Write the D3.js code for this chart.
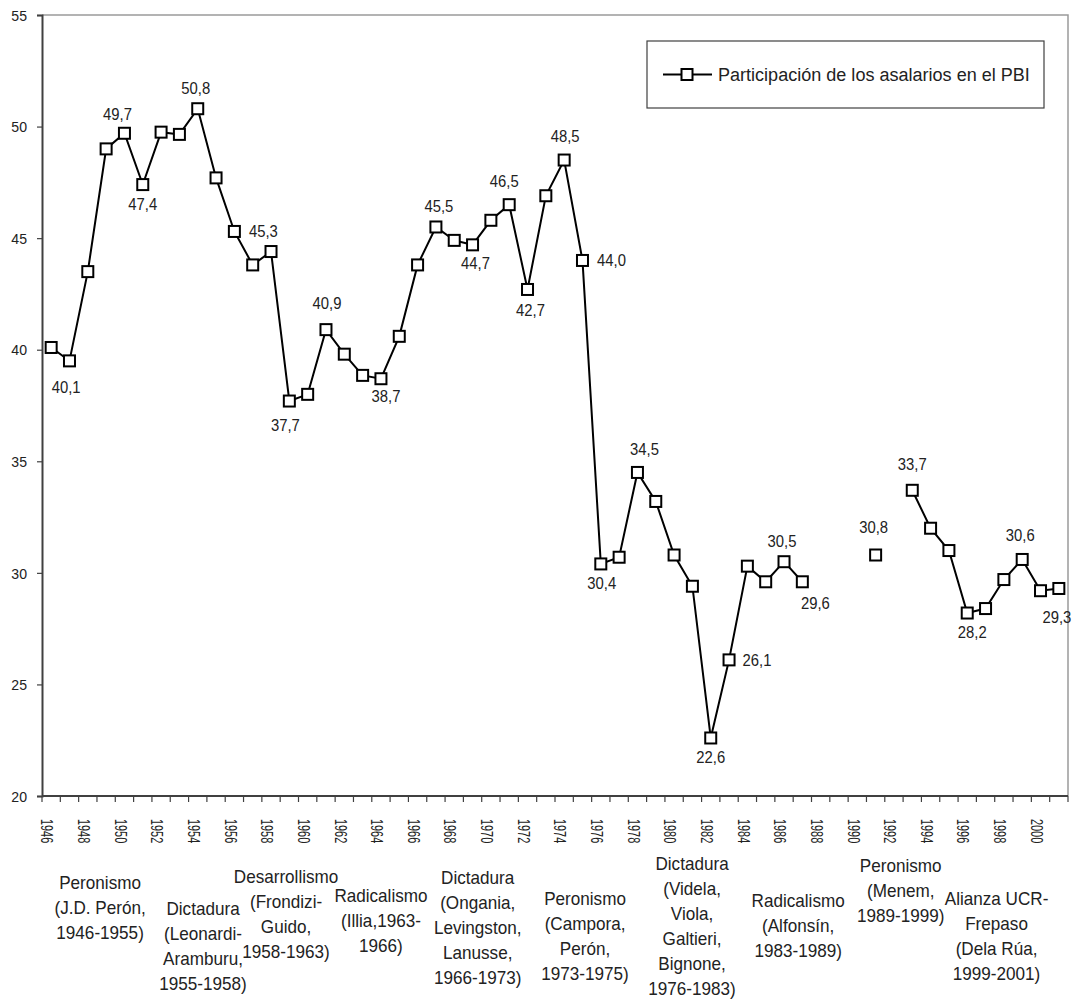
<!DOCTYPE html>
<html>
<head>
<meta charset="utf-8">
<script src="https://cdn.jsdelivr.net/npm/d3@7"></script>
<style>
  html, body { margin: 0; padding: 0; background: #fff; }
  svg text { font-family: 'Liberation Sans', Arial, sans-serif; fill: #222; }
</style>
</head>
<body>
<div id="chart"></div>
<script>
"use strict";
// Participación de los asalarios en el PBI, Argentina 1946-2001 (gaps = no data)
const years = d3.range(1946, 2002);
const wageShare = [
  40.1, 39.5, 43.5, 49.0, 49.7, 47.4, 49.75, 49.65, 50.8, 47.7,   // 1946-1955
  45.3, 43.8, 44.4, 37.7, 38.0, 40.9, 39.8, 38.85, 38.7, 40.6,    // 1956-1965
  43.8, 45.5, 44.9, 44.7, 45.8, 46.5, 42.7, 46.9, 48.5, 44.0,     // 1966-1975
  30.4, 30.7, 34.5, 33.2, 30.8, 29.4, 22.6, 26.1, 30.3, 29.6,     // 1976-1985
  30.5, 29.6, null, null, null, 30.8, null, 33.7, 32.0, 31.0,     // 1986-1995
  28.2, 28.4, 29.7, 30.6, 29.2, 29.3                              // 1996-2001
];
const yTicks = [20, 25, 30, 35, 40, 45, 50, 55];
const labeledYears = [1946, 1950, 1951, 1954, 1956, 1959, 1961, 1964, 1967, 1969, 1971, 1972,
  1974, 1975, 1976, 1978, 1982, 1983, 1986, 1987, 1991, 1993, 1996, 1999, 2001];
const seriesName = 'Participación de los asalarios en el PBI';
const periods = [
  ['Peronismo', '(J.D. Perón,', '1946-1955)'],
  ['Dictadura', '(Leonardi-', 'Aramburu,', '1955-1958)'],
  ['Desarrollismo', '(Frondizi-', 'Guido,', '1958-1963)'],
  ['Radicalismo', '(Illia,1963-', '1966)'],
  ['Dictadura', '(Ongania,', 'Levingston,', 'Lanusse,', '1966-1973)'],
  ['Peronismo', '(Campora,', 'Perón,', '1973-1975)'],
  ['Dictadura', '(Videla,', 'Viola,', 'Galtieri,', 'Bignone,', '1976-1983)'],
  ['Radicalismo', '(Alfonsín,', '1983-1989)'],
  ['Peronismo', '(Menem,', '1989-1999)'],
  ['Alianza UCR-', 'Frepaso', '(Dela Rúa,', '1999-2001)']
];

// ---- layout (not data) ----
const W = 1073, H = 1003;
const M = { left: 42, right: 1068, top: 15, bottom: 796 };
const SX = 0.94;   // the reference's type is slightly condensed
// label offsets from the marker centre, same order as labeledYears
const labelOffsets = [[15, 40], [-7, -19], [0, 20], [-2, -20], [29, 0], [-4, 24], [1, -26], [5, 18],
  [3, -21], [3, 18], [-5, -23], [3, 21], [1, -24], [29, 0], [1, 19], [7, -23], [0, 19], [28, 0],
  [-2, -20], [13, 22], [-2, -28], [0, -26], [5, 19], [-2, -24], [-2, 29]];
// period annotation: centre (fractional year on the x scale) and first-line y
const periodPos = [[1948.67, 883], [1954.29, 909], [1958.82, 877], [1964.0, 896], [1969.28, 878],
  [1975.14, 899], [1980.98, 864], [1986.77, 901], [1992.37, 866], [1997.6, 899]];
const lineGap = 25;

const svg = d3.select('#chart').append('svg').attr('width', W).attr('height', H);

const x = d3.scaleBand().domain(years).range([M.left, M.right]).padding(0);
const bw = x.bandwidth();
const cx = (yr) => x(yr) + bw / 2;
const fx = (yr) => cx(1946) + (yr - 1946) * bw;   // fractional-year position
const y = d3.scaleLinear().domain([20, 55]).range([M.bottom, M.top]);

const data = years.map((yr, i) => ({ year: yr, value: wageShare[i] }));
const fmt = (v) => d3.format('.1f')(v).replace('.', ',');
const place = (px, py) => `translate(${px},${py}) scale(${SX},1)`;

// plot frame: gray top/right, dark axes left/bottom
svg.append('path')
  .attr('d', `M${M.left},${M.top}H${M.right}V${M.bottom}`)
  .attr('fill', 'none').attr('stroke', '#9a9a9a').attr('stroke-width', 1.5);

// y axis
const yAxis = svg.append('g').attr('transform', `translate(${M.left},0)`)
  .call(d3.axisLeft(y).tickValues(yTicks).tickSize(5).tickFormat(d3.format('d')));
yAxis.select('.domain').attr('stroke', '#404040').attr('stroke-width', 2);
yAxis.selectAll('.tick line').attr('stroke', '#404040').attr('stroke-width', 1.2);
yAxis.selectAll('.tick text').attr('x', null).attr('dy', null)
  .attr('dominant-baseline', 'central').attr('transform', place(-15, 0))
  .attr('font-size', 15).attr('fill', '#222');

// x axis: ticks at every category boundary, labels every second year, rotated
const xg = svg.append('g');
xg.append('line').attr('x1', M.left).attr('x2', M.right).attr('y1', M.bottom).attr('y2', M.bottom)
  .attr('stroke', '#404040').attr('stroke-width', 2);
xg.selectAll('line.tk').data(years.concat([2002])).enter().append('line').attr('class', 'tk')
  .attr('x1', (d) => (d === 2002 ? M.right : x(d))).attr('x2', (d) => (d === 2002 ? M.right : x(d)))
  .attr('y1', M.bottom).attr('y2', M.bottom + 6)
  .attr('stroke', '#404040').attr('stroke-width', 1.2);
xg.selectAll('text').data(years.filter((d) => d % 2 === 0)).enter().append('text')
  .attr('transform', (d) => `translate(${cx(d) - 4.5},${M.bottom + 23}) rotate(90) scale(0.68,1)`)
  .attr('dominant-baseline', 'central').attr('font-size', 16).text((d) => d);

// series line with gaps
const line = d3.line().defined((d) => d.value != null).x((d) => cx(d.year)).y((d) => y(d.value));
svg.append('path').datum(data).attr('d', line)
  .attr('fill', 'none').attr('stroke', '#000').attr('stroke-width', 2).attr('stroke-linejoin', 'miter');

const ms = 11;
svg.append('g').selectAll('rect').data(data.filter((d) => d.value != null)).enter().append('rect')
  .attr('x', (d) => cx(d.year) - ms / 2).attr('y', (d) => y(d.value) - ms / 2)
  .attr('width', ms).attr('height', ms)
  .attr('fill', '#fff').attr('stroke', '#000').attr('stroke-width', 2);

// data labels
svg.append('g').selectAll('text').data(labeledYears).enter().append('text')
  .attr('transform', (d, i) => place(cx(d) + labelOffsets[i][0], y(wageShare[years.indexOf(d)]) + labelOffsets[i][1]))
  .attr('text-anchor', 'middle').attr('dominant-baseline', 'central').attr('font-size', 15.8)
  .text((d) => fmt(wageShare[years.indexOf(d)]));

// legend
const lg = svg.append('g');
lg.append('rect').attr('x', 647).attr('y', 41).attr('width', 397).attr('height', 67)
  .attr('fill', '#fff').attr('stroke', '#404040').attr('stroke-width', 1.2);
lg.append('line').attr('x1', 663).attr('x2', 712).attr('y1', 74.5).attr('y2', 74.5)
  .attr('stroke', '#000').attr('stroke-width', 2);
lg.append('rect').attr('x', 687 - ms / 2).attr('y', 74.5 - ms / 2).attr('width', ms).attr('height', ms)
  .attr('fill', '#fff').attr('stroke', '#000').attr('stroke-width', 2);
lg.append('text').attr('transform', place(718, 74.5)).attr('dominant-baseline', 'central')
  .attr('font-size', 19.2).text(seriesName);

// period annotations below the axis
svg.append('clipPath').attr('id', 'annClip').append('rect').attr('x', 0).attr('y', 800).attr('width', 1066).attr('height', 210);
const ann = svg.append('g').attr('clip-path', 'url(#annClip)');
periods.forEach((lines, i) => {
  const t = ann.append('text').attr('text-anchor', 'middle').attr('font-size', 18.2)
    .attr('transform', place(fx(periodPos[i][0]), periodPos[i][1]));
  lines.forEach((s, j) => {
    t.append('tspan').attr('x', 0).attr('y', j * lineGap).attr('dominant-baseline', 'central').text(s);
  });
});
</script>
</body>
</html>
